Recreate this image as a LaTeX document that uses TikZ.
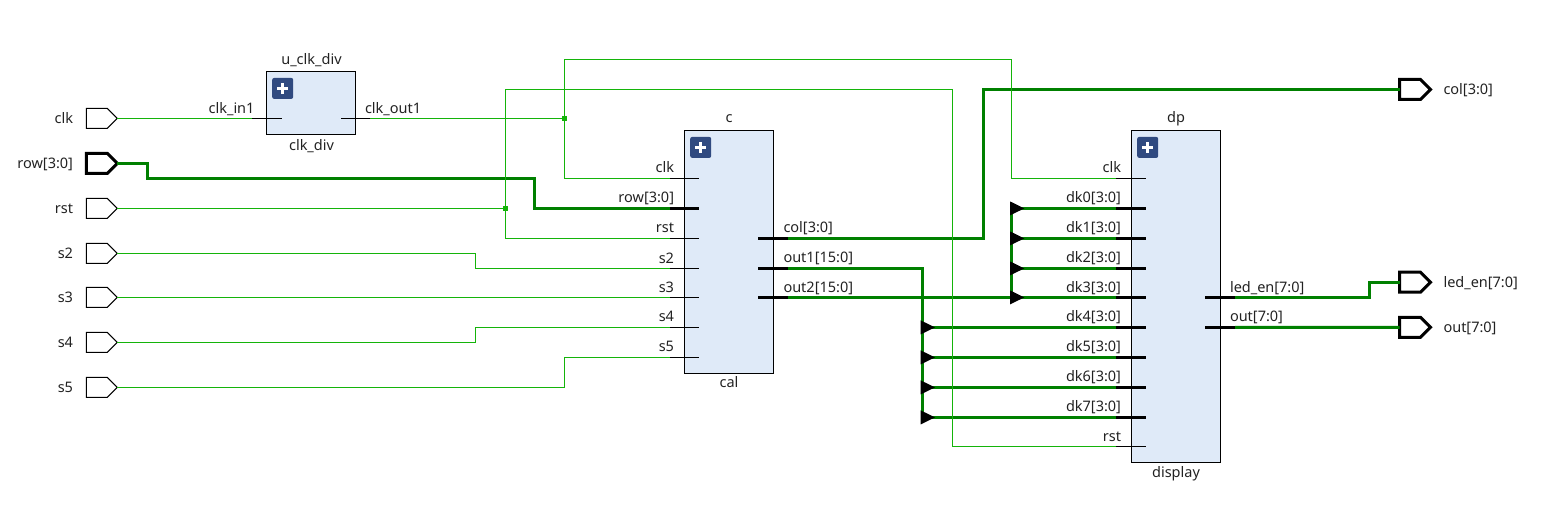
\documentclass[tikz,border=0pt]{standalone}
\usepackage{fontspec}
\setmainfont{Noto Sans}
\usetikzlibrary{shapes.symbols,calc}
\definecolor{thinw}{HTML}{14B40A}
\definecolor{busw}{HTML}{008000}
\definecolor{boxfill}{HTML}{DFEAF8}
\definecolor{plusc}{HTML}{304A80}
\definecolor{txt}{HTML}{222222}
\tikzset{
  lab/.style={font=\fontsize{14.5}{16}\selectfont,text=txt,inner sep=0pt,outer sep=0pt},
  rlab/.style={lab,anchor=base east},
  llab/.style={lab,anchor=base west},
  clab/.style={lab,anchor=base},
  block/.style={draw=black,fill=boxfill,line width=1.2pt,rectangle,inner sep=0pt,outer sep=0pt,anchor=north west},
  portbase/.style={signal,signal to=east,signal from=nowhere,signal pointer angle=90,draw=black,fill=white,minimum width=31pt,minimum height=20pt,inner sep=0pt,outer sep=0pt},
  portthin/.style={portbase,line width=1.1pt},
  portbus/.style={portbase,line width=3pt,line join=miter},
  wthin/.style={draw=thinw,line width=1.1pt},
  wbus/.style={draw=busw,line width=3pt},
  pinthin/.style={draw=black,line width=1.1pt},
  pinbus/.style={draw=black,line width=3pt},
  junction/.style={fill=thinw,rectangle,minimum size=5pt,inner sep=0pt,outer sep=0pt},
  plusbtn/.style={fill=plusc,rounded corners=2pt,rectangle,minimum size=21pt,inner sep=0pt,outer sep=0pt},
  tap/.style={fill=black}
}
\begin{document}
\begin{tikzpicture}[x=1pt,y=-1pt]
\useasboundingbox (0,0) rectangle (1561,518);

% input ports
\foreach \n/\y/\t in {clk/118.4/clk,rst/208.4/rst,s2/253.4/s2,s3/297.4/s3,s4/342.4/s4,s5/387.4/s5}{
  \node[portthin] (in\n) at (96.8,\y) {};
  \node[rlab] (inlab\n) at (73,\y+5.6) {\t};
}
\node[portbus] (inrow) at (96.8,163.4) {};
\node[rlab] (inlabrow) at (73,169) {row[3:0]};

% output ports
\node[portbus] (outcol) at (1410,89.4) {};
\node[llab] (outlabcol) at (1443.5,94.4) {col[3:0]};
\node[portbus] (outled) at (1410,282.2) {};
\node[llab] (outlabled) at (1443.5,287.2) {led\_en[7:0]};
\node[portbus] (outout) at (1410,327.3) {};
\node[llab] (outlabout) at (1443.5,332.3) {out[7:0]};

% blocks
\node[block,minimum width=89pt,minimum height=63pt] (uclk) at (266.3,71.3) {};
\node[block,minimum width=89pt,minimum height=243pt] (c) at (684.3,130.3) {};
\node[block,minimum width=89pt,minimum height=332pt] (dp) at (1131.5,130.3) {};

\node[clab] (uclkname) at (311.5,64.6) {u\_clk\_div};
\node[clab] (uclktype) at (311.5,150.6) {clk\_div};
\node[clab] (cname) at (729,123) {c};
\node[clab] (ctype) at (729,388) {cal};
\node[clab] (dpname) at (1176,123) {dp};
\node[clab] (dptype) at (1176,477) {display};

% plus buttons
\foreach \n/\x/\y in {puclk/282.7/88.4,pc/700.7/147.4,pdp/1147.7/147.4}{
  \node[plusbtn] (\n) at (\x,\y) {};
  \fill[white] (\x-5.5,\y-1.5) rectangle (\x+5.5,\y+1.5);
  \fill[white] (\x-1.5,\y-5.5) rectangle (\x+1.5,\y+5.5);
}

% pin coordinates
\coordinate (uin) at (252,118.4);  \coordinate (uini) at (282,118.4);
\coordinate (uout) at (370,118.4); \coordinate (uouti) at (341,118.4);
\foreach \n/\y in {clk/178.4,row/208.4,rst/238.4,s2/268.4,s3/297.4,s4/327.4,s5/357.4}{
  \coordinate (c\n) at (670,\y); \coordinate (c\n i) at (699,\y);
}
\foreach \n/\y in {col/238.4,out1/268.4,out2/297.4}{
  \coordinate (c\n) at (788,\y); \coordinate (c\n i) at (758,\y);
}
\foreach \n/\y in {clk/178.4,dk0/208.4,dk1/238.4,dk2/268.4,dk3/297.4,dk4/327.4,dk5/357.4,dk6/387.4,dk7/417.4,rst/446.4}{
  \coordinate (d\n) at (1116,\y); \coordinate (d\n i) at (1146,\y);
}
\foreach \n/\y in {led/297.4,out/327.4}{
  \coordinate (d\n) at (1235,\y); \coordinate (d\n i) at (1205,\y);
}

% bus wires
\draw[wbus] (inrow.east) -| (147.5,178.4) -| (534.5,208.4) -- (crow);
\draw[wbus] (ccol) -| (983.2,89.4) -- (outcol.west);
\draw[wbus] (cout2) -- (ddk3);
\draw[wbus] (cout1) -| (922.4,417.4);
\draw[wbus] (1011.7,208.4) -- (1011.7,297.4);
\foreach \n in {dk0,dk1,dk2}{\path (1011.7,0) |- (d\n) coordinate[pos=.5] (t\n); \draw[wbus] (t\n) -- (d\n);}
\foreach \n in {dk4,dk5,dk6,dk7}{\path (922.4,0) |- (d\n) coordinate[pos=.5] (t\n); \draw[wbus] (t\n) -- (d\n);}
\path (1011.7,0) |- (ddk3) coordinate[pos=.5] (tdk3);
\draw[wbus] (dled) -| (1369.5,282.2) -- (outled.west);
\draw[wbus] (dout) -- (outout.west);

% bus taps
\foreach \n in {dk0,dk1,dk2,dk3,dk4,dk5,dk6,dk7}{
  \fill[tap] ($(t\n)+(-1.7,-7)$) -- ($(t\n)+(12.6,0)$) -- ($(t\n)+(-1.7,7)$) -- cycle;
}

% thin wires
\draw[wthin] (inclk.east) -- (uin);
\node[junction] (jclk) at (564.6,118.4) {};
\node[junction] (jrst) at (505.6,208.4) {};
\draw[wthin] (uout) -- (jclk.center);
\draw[wthin] (jclk.center) |- (cclk);
\draw[wthin] (jclk.center) |- (1011.7,59.4) |- (dclk);
\draw[wthin] (inrst.east) -- (jrst.center);
\draw[wthin] (jrst.center) |- (crst);
\draw[wthin] (jrst.center) |- (952.4,89.8) |- (drst);
\draw[wthin] (ins2.east) -| (475.6,268.4) -- (cs2);
\draw[wthin] (ins3.east) -- (cs3);
\draw[wthin] (ins4.east) -| (475.6,327.4) -- (cs4);
\draw[wthin] (ins5.east) -| (564.4,357.4) -- (cs5);

% pins
\draw[pinthin] (uin) -- (uini);
\draw[pinthin] (uouti) -- (uout);
\foreach \n in {clk,rst,s2,s3,s4,s5}{\draw[pinthin] (c\n) -- (c\n i);}
\draw[pinbus] (crow) -- (crowi);
\foreach \n in {col,out1,out2}{\draw[pinbus] (c\n i) -- (c\n);}
\foreach \n in {clk,rst}{\draw[pinthin] (d\n) -- (d\n i);}
\foreach \n in {dk0,dk1,dk2,dk3,dk4,dk5,dk6,dk7}{\draw[pinbus] (d\n) -- (d\n i);}
\foreach \n in {led,out}{\draw[pinbus] (d\n i) -- (d\n);}

% pin labels
\node[rlab] (luin) at (254.5,113.3) {clk\_in1};
\node[llab] (luout) at (365,113.3) {clk\_out1};
\foreach \n/\y/\t in {clk/172.7/clk,row/202.7/{row[3:0]},rst/232.7/rst,s2/263.2/s2,s3/292.6/s3,s4/321.7/s4,s5/351.7/s5}{
  \node[rlab] (lc\n) at (674,\y) {\t};
}
\foreach \n/\y/\t in {col/232.7/{col[3:0]},out1/262.7/{out1[15:0]},out2/292.6/{out2[15:0]}}{
  \node[llab] (lc\n) at (783.5,\y) {\t};
}
\foreach \n/\y/\t in {clk/172.7/clk,dk0/202.7/{dk0[3:0]},dk1/232.7/{dk1[3:0]},dk2/262.7/{dk2[3:0]},dk3/292.6/{dk3[3:0]},dk4/321.7/{dk4[3:0]},dk5/351.7/{dk5[3:0]},dk6/381.7/{dk6[3:0]},dk7/411.7/{dk7[3:0]},rst/441/rst}{
  \node[rlab] (ld\n) at (1121,\y) {\t};
}
\node[llab] (ldled) at (1230,292.6) {led\_en[7:0]};
\node[llab] (ldout) at (1230,321.7) {out[7:0]};
\end{tikzpicture}
\end{document}
